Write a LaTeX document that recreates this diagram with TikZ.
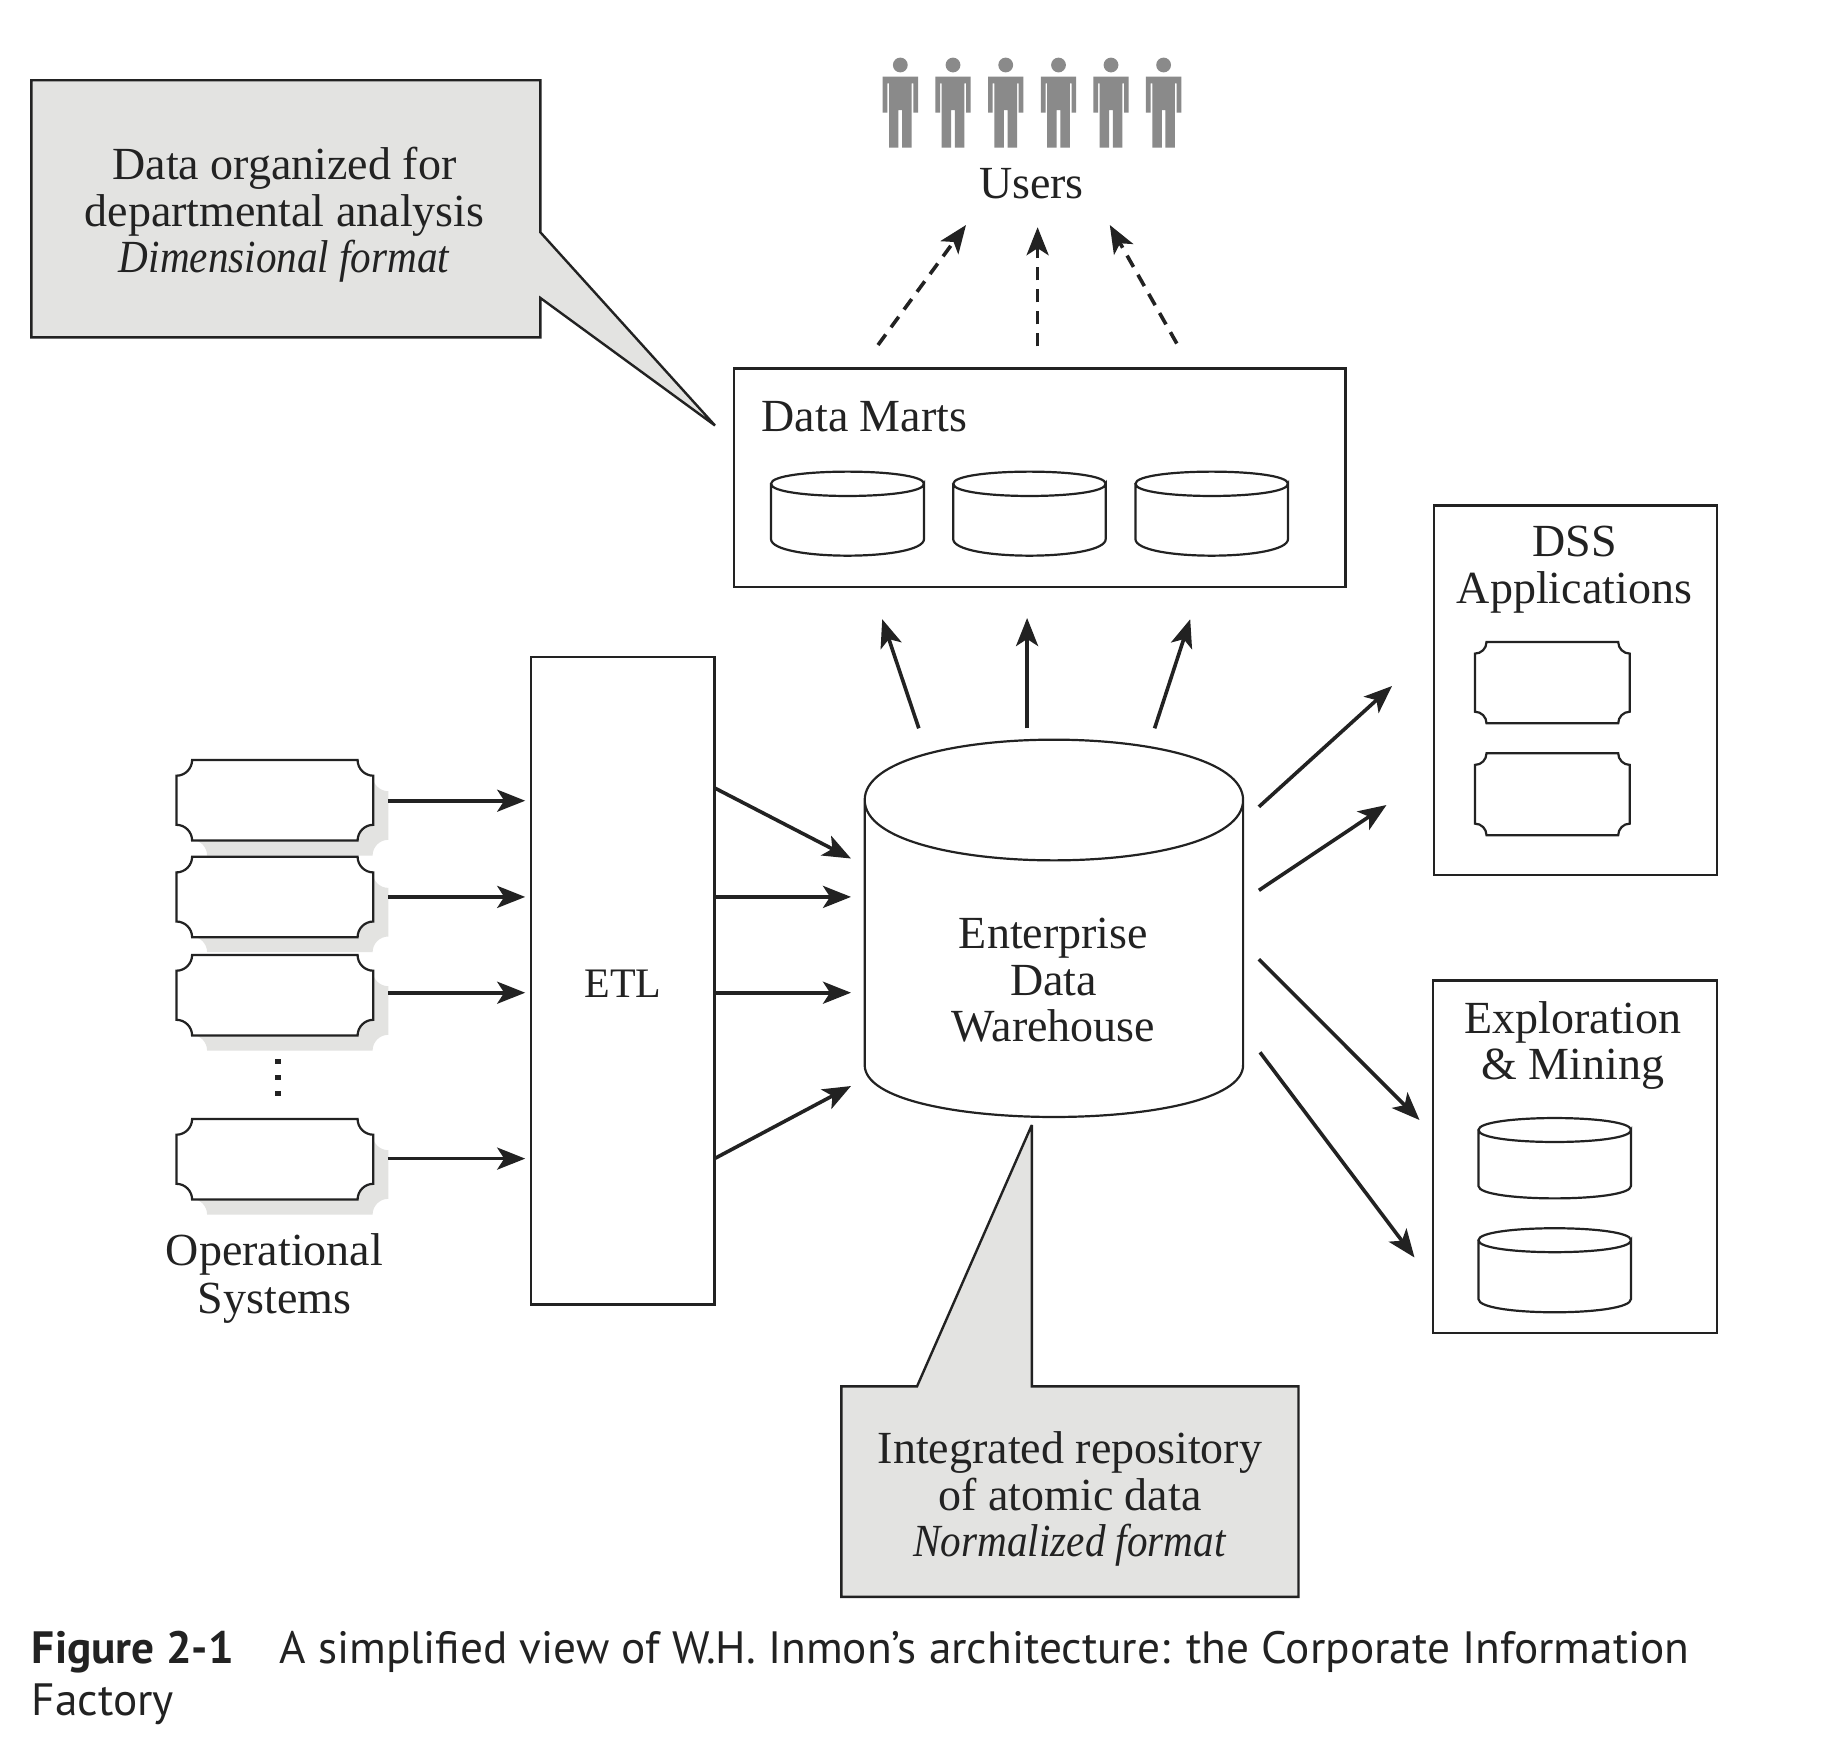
\documentclass[tikz,border=0pt]{standalone}
\usepackage{fontspec}
\setmainfont[ItalicFeatures={FakeStretch=0.895}]{Liberation Serif}
\newfontfamily\capfont{PT Sans}
\usetikzlibrary{arrows.meta}
\definecolor{ink}{HTML}{222222}
\definecolor{shade}{HTML}{E3E3E1}
\definecolor{figgrey}{HTML}{8A8A8A}
\tikzset{
  every node/.style={text=ink,inner sep=0pt,outer sep=0pt},
  lbl/.style={font=\fontsize{23}{23.25}\selectfont,align=center,anchor=base},
  boxline/.style={draw=ink,line width=1.2pt},
  callout/.style={boxline,fill=shade,line join=miter,miter limit=3},
  arrowline/.style={draw=ink,line width=1.8pt,-{Stealth[length=14pt,width=11pt,inset=3.5pt]}},
  dashline/.style={arrowline,dash pattern=on 6.5pt off 4.5pt},
  shapeline/.style={draw=ink,line width=1.1pt,fill=white}
}
% \boxnode{name}{L}{T}{R}{B}{text}
\newcommand\boxnode[6]{\node[boxline,fill=white,minimum width={(#4-#2)*0.5pt},minimum height={(#5-#3)*0.5pt}] (#1) at ({(#2+#4)/2},{(#3+#5)/2}) {#6};}
% \tkt{L}{T}{R}{B}{r}{style}
\newcommand\tkt[6]{\path[#6] ({#1+#5},#2) -- ({#3-#5},#2)
  .. controls ({#3-#5},{#2+.55*#5}) and ({#3-.55*#5},{#2+#5}) .. (#3,{#2+#5})
  -- (#3,{#4-#5})
  .. controls ({#3-.55*#5},{#4-#5}) and ({#3-#5},{#4-.55*#5}) .. ({#3-#5},#4)
  -- ({#1+#5},#4)
  .. controls ({#1+#5},{#4-.55*#5}) and ({#1+.55*#5},{#4-#5}) .. (#1,{#4-#5})
  -- (#1,{#2+#5})
  .. controls ({#1+.55*#5},{#2+#5}) and ({#1+#5},{#2+.55*#5}) .. ({#1+#5},#2) -- cycle;}
% \cyl{L}{R}{ell cy}{ry}{side end}{bottom ry}
\newcommand\cyl[6]{\path[shapeline] (#1,#3) -- (#1,#5)
  .. controls (#1,{#5+1.33*#6}) and (#2,{#5+1.33*#6}) .. (#2,#5) -- (#2,#3)
  .. controls (#2,{#3+1.33*#4}) and (#1,{#3+1.33*#4}) .. (#1,#3)
  .. controls (#1,{#3-1.33*#4}) and (#2,{#3-1.33*#4}) .. (#2,#3);}
\newcommand\person[1]{\fill[figgrey] (#1,65) circle[radius=7.4];
  \fill[figgrey] ({#1-17.7},76.7) -- ({#1+17.7},76.7) -- ({#1+17.7},112.7) -- ({#1+13},112.7) -- ({#1+13},83.3) -- ({#1+11.3},83.3) -- ({#1+11.3},147.7) -- ({#1+1.85},147.7) -- ({#1+1.85},110) -- ({#1-1.85},110) -- ({#1-1.85},147.7) -- ({#1-11.3},147.7) -- ({#1-11.3},83.3) -- ({#1-13},83.3) -- ({#1-13},112.7) -- ({#1-17.7},112.7) -- cycle;}
\begin{document}
\begin{tikzpicture}[x=0.5pt,y=-0.5pt]
\useasboundingbox[fill=white] (0,0) rectangle (1826,1746);
% callouts
\path[callout] (31.4,80.2) -- (540.3,80.2) -- (540.3,232.2) -- (715,425.5) -- (540.3,297.9) -- (540.3,337.4) -- (31.4,337.4) -- cycle;
\node[lbl] (note1) at (284.5,272.7) {Data organized for\\departmental analysis\\\textit{Dimensional format}};
\path[callout] (841.4,1386.4) -- (917,1386.4) -- (1031.8,1125) -- (1031.8,1386.4) -- (1298.5,1386.4) -- (1298.5,1596.8) -- (841.4,1596.8) -- cycle;
\node[lbl] (note2) at (1070,1556.5) {Integrated repository\\of atomic data\\\textit{Normalized format}};
% users
\foreach \cx in {900.3,953,1005.7,1058.5,1111,1163.6} {\person{\cx}}
\node[lbl] (users) at (1031.5,198.5) {Users};
% data marts
\boxnode{marts}{733.7}{368.6}{1345.6}{587}{}
\node[lbl,anchor=base west] (martslabel) at (761.6,431) {Data Marts};
\cyl{771}{924}{483.8}{12.2}{539}{16.7}
\cyl{953.2}{1105.7}{483.8}{12.2}{539}{16.7}
\cyl{1135.4}{1288}{483.8}{12.2}{539}{16.7}
% EDW
\cyl{864.7}{1243.1}{800}{60.5}{1065.1}{52}
\node[lbl] (edw) at (1053.5,1041.5) {Enterprise\\Data\\Warehouse};
% ETL
\boxnode{etl}{531}{657}{714.5}{1304.5}{}
\node[lbl,font=\fontsize{21}{23.25}\selectfont] (etllabel) at (623,997.2) {ETL};
% operational tickets
\foreach \t in {760,856.7,955,1119} {
  \tkt{191.4}{\t+15.5}{388.3}{\t+95.5}{15.7}{fill=shade}
}
\foreach \t in {760,856.7,955,1119} {
  \tkt{176.4}{\t}{373.3}{\t+80.5}{15.7}{shapeline}
}
\foreach \dy in {1058.5,1074.5,1090.5} {\fill[ink] (275,\dy) rectangle (280.6,\dy+5.6);}
\node[lbl,font=\fontsize{23}{24}\selectfont] (ops) at (274.5,1313.8) {Operational\\Systems};
% DSS
\boxnode{dss}{1434.1}{505.6}{1717.1}{874.7}{}
\node[lbl] (dsslabel) at (1574.5,603) {DSS\\Applications};
\tkt{1474.9}{642}{1629.8}{723.3}{11.6}{shapeline}
\tkt{1474.9}{753.3}{1629.8}{835.2}{11.6}{shapeline}
% exploration
\boxnode{expl}{1433}{980.5}{1717}{1332.9}{}
\node[lbl] (expllabel) at (1573,1079.5) {Exploration\\\& Mining};
\cyl{1478.4}{1631}{1130}{12}{1185.9}{12.5}
\cyl{1478.4}{1631}{1240.2}{12}{1299}{13.3}
% connector ends
\foreach \n/\xa/\ya/\xb/\yb in {
  d1/878/345/966/225, d2/1037.6/346.3/1037.6/227.2, d3/1176.8/343.5/1109.8/225,
  m1/918.8/728.3/882.2/619.2, m2/1027.1/728.3/1027.1/618, m3/1154.6/728.3/1190.2/619.2,
  s1/387.8/800.7/525.2/800.7, s2/387.8/896.9/525.2/896.9, s3/387.8/992.7/525.2/992.7, s4/387.8/1158.6/525.2/1158.6,
  e1/714.5/787.9/851/858.5, e2/714.5/896.9/851/896.9, e3/714.5/992.7/851/992.7, e4/714.5/1158.6/851/1086,
  a1/1258.9/806.8/1392/686, a2/1258.9/890.3/1386.5/805, a3/1258.9/959.3/1419.5/1120, a4/1260/1052.3/1414.5/1257.5}
{ \coordinate (\n a) at (\xa,\ya); \coordinate (\n b) at (\xb,\yb); }
\foreach \n in {d1,d2,d3} {\draw[dashline] (\n a) -- (\n b);}
\foreach \n in {m1,m2,m3,s1,s2,s3,s4,e1,e2,e3,e4,a1,a2,a3,a4} {\draw[arrowline] (\n a) -- (\n b);}
% caption
\node[anchor=base west,align=left,font=\capfont\fontsize{22.65}{25.9}\selectfont] (caption) at (32,1715) {\makebox[123.75pt][l]{\bfseries Figure 2-1}A simplified view of W.H. Inmon’s architecture: the Corporate Information\\Factory};
\end{tikzpicture}
\end{document}
